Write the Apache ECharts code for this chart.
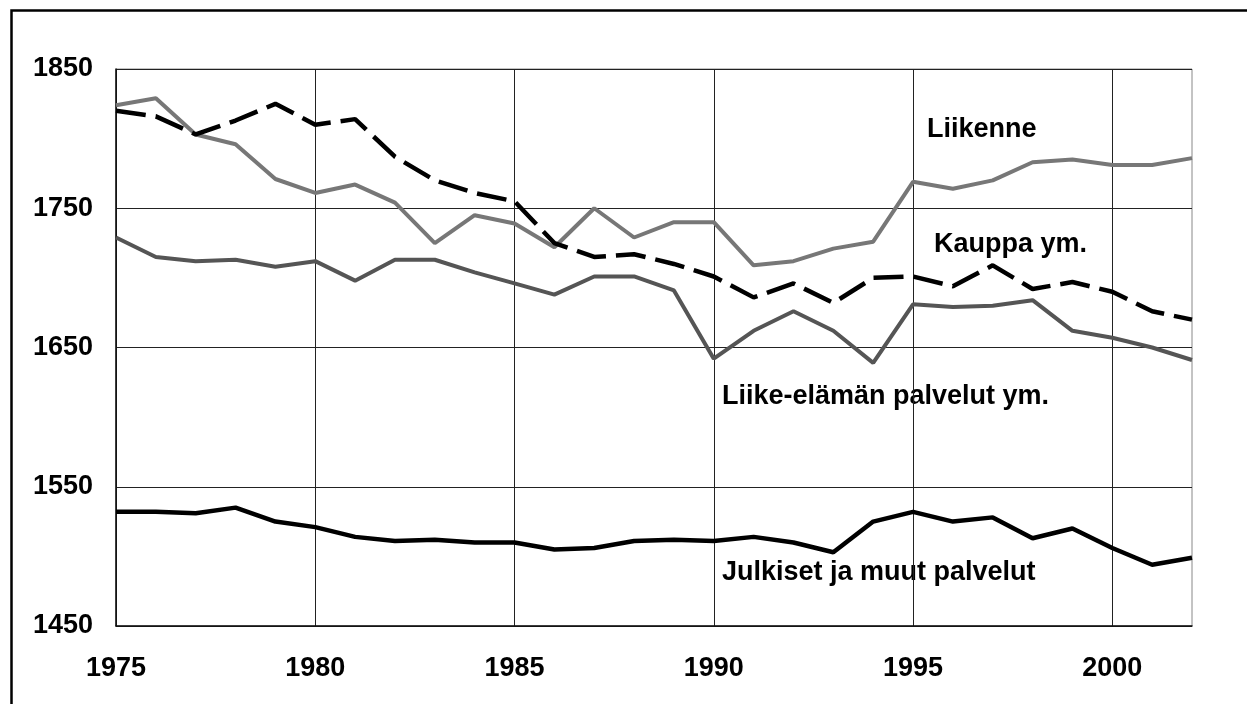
<!DOCTYPE html>
<html>
<head>
<meta charset="utf-8">
<style>
  html, body { margin: 0; padding: 0; background: #fff; }
  #chart { width: 1247px; height: 704px; }
</style>
<script src="https://cdn.jsdelivr.net/npm/echarts@6/dist/echarts.min.js"></script>
</head>
<body>
<div id="chart"></div>
<script>
var years = [];
for (var y = 1975; y <= 2002; y++) years.push(String(y));

var liikenne = [1824, 1829, 1803, 1796, 1771, 1761, 1767, 1754, 1725, 1745,
  1739, 1722, 1750, 1729, 1740, 1740, 1709, 1712, 1721, 1726,
  1769, 1764, 1770, 1783, 1785, 1781, 1781, 1786];
var kauppa = [1820, 1816, 1803, 1813, 1825, 1810, 1814, 1787, 1770, 1761,
  1755, 1725, 1715, 1717, 1710, 1701, 1686, 1696, 1682, 1700,
  1701, 1694, 1709, 1692, 1697, 1690, 1676, 1670];
var liike = [1729, 1715, 1712, 1713, 1708, 1712, 1698, 1713, 1713, 1704,
  1696, 1688, 1701, 1701, 1691, 1642, 1662, 1676, 1662, 1639,
  1681, 1679, 1680, 1684, 1662, 1657, 1650, 1641];
var julkiset = [1532, 1532, 1531, 1535, 1525, 1521, 1514, 1511, 1512, 1510,
  1510, 1505, 1506, 1511, 1512, 1511, 1514, 1510, 1503, 1525,
  1532, 1525, 1528, 1513, 1520, 1506, 1494, 1499];

var font = '"Liberation Sans", Arial, sans-serif';
var labelStyle = { fontFamily: font, fontWeight: 'bold', fontSize: 27, fill: '#000' };

var chart = echarts.init(document.getElementById('chart'), null, { renderer: 'canvas' });
chart.setOption({
  animation: false,
  backgroundColor: '#fff',
  grid: {
    left: 116, right: 55, top: 69, bottom: 78,
    show: true, borderColor: '#888', borderWidth: 1
  },
  xAxis: {
    type: 'category',
    data: years,
    boundaryGap: false,
    axisLine: { lineStyle: { color: '#111', width: 1.5 } },
    axisTick: { show: false },
    axisLabel: {
      interval: 4, margin: 29, color: '#000',
      fontFamily: font, fontWeight: 'bold', fontSize: 27
    },
    splitLine: { show: true, interval: 4, lineStyle: { color: '#222', width: 1 } }
  },
  yAxis: {
    type: 'value',
    min: 1450, max: 1850, interval: 100,
    axisLine: { show: true, lineStyle: { color: '#111', width: 1.5 } },
    axisTick: { show: false },
    axisLabel: {
      margin: 23, color: '#000',
      fontFamily: font, fontWeight: 'bold', fontSize: 27,
      formatter: function(v) { return String(v); }
    },
    splitLine: { show: true, lineStyle: { color: '#222', width: 1 } }
  },
  series: [
    {
      name: 'Liikenne', type: 'line', data: liikenne,
      symbol: 'none', lineStyle: { color: '#777', width: 4 }
    },
    {
      name: 'Liike-elämän palvelut ym.', type: 'line', data: liike,
      symbol: 'none', lineStyle: { color: '#555', width: 4 }
    },
    {
      name: 'Kauppa ym.', type: 'line', data: kauppa,
      symbol: 'none', lineStyle: { color: '#000', width: 4.5, type: [30, 10] }
    },
    {
      name: 'Julkiset ja muut palvelut', type: 'line', data: julkiset,
      symbol: 'none', lineStyle: { color: '#000', width: 4.5 }
    }
  ],
  graphic: [
    {
      type: 'rect', left: 9, top: 8, silent: true,
      shape: { width: 1237, height: 720 },
      style: { fill: 'none', stroke: '#000', lineWidth: 2.5 }
    },
    { type: 'text', left: 927, top: 116, style: Object.assign({ text: 'Liikenne' }, labelStyle) },
    { type: 'text', left: 934, top: 231, style: Object.assign({ text: 'Kauppa ym.' }, labelStyle) },
    { type: 'text', left: 722, top: 383, style: Object.assign({ text: 'Liike-elämän palvelut ym.' }, labelStyle) },
    { type: 'text', left: 722, top: 559, style: Object.assign({ text: 'Julkiset ja muut palvelut' }, labelStyle) }
  ]
});
window.addEventListener('resize', function() { chart.resize(); });
</script>
</body>
</html>
